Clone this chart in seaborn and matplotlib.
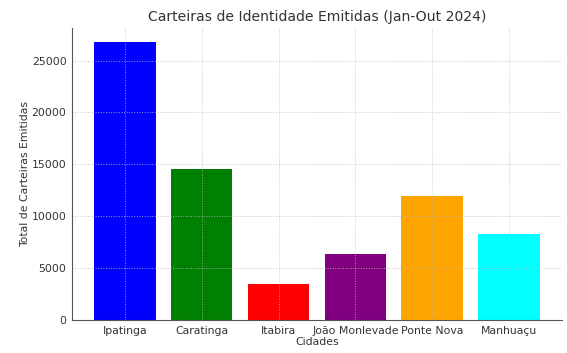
import numpy as np
import pandas as pd
import matplotlib
matplotlib.use('Agg')
import matplotlib.pyplot as plt
import seaborn as sns

# data
cidades = ['Ipatinga', 'Caratinga', 'Itabira', 'João Monlevade', 'Ponte Nova', 'Manhuaçu']
carteiras = [26800, 14600, 3450, 6350, 12000, 8270]
cores = ['blue', 'green', 'red', 'purple', 'orange', 'cyan']

df = pd.DataFrame({'cidade': cidades, 'total': carteiras})

sns.set_style('white')
plt.rcParams['font.family'] = ['DejaVu Sans']
plt.rcParams['axes.axisbelow'] = 'line'
plt.rcParams['text.color'] = '#333333'
plt.rcParams['axes.labelcolor'] = '#333333'
plt.rcParams['xtick.color'] = '#333333'
plt.rcParams['ytick.color'] = '#333333'

fig, ax = plt.subplots(figsize=(5.67, 3.53), dpi=100)
sns.barplot(data=df, x='cidade', y='total', hue='cidade', palette=cores,
            saturation=1, legend=False, width=0.8, ax=ax, linewidth=0)

ax.set_xlim(-0.69, 5.69)
ax.set_ylim(0, 28140)
ax.set_yticks([0, 5000, 10000, 15000, 20000, 25000])
ax.grid(True, linestyle=':', color='#bbbbbb', alpha=0.8, linewidth=0.7)
ax.tick_params(axis='both', labelsize=7.8, length=2, width=0.6, pad=2)

ax.set_title('Carteiras de Identidade Emitidas (Jan-Out 2024)', fontsize=10.1, pad=5)
ax.set_xlabel('Cidades', fontsize=7.8, labelpad=1)
ax.set_ylabel('Total de Carteiras Emitidas', fontsize=7.8, labelpad=1)

for s in ['top', 'right']:
    ax.spines[s].set_visible(False)
for s in ['left', 'bottom']:
    ax.spines[s].set_color('#555555')
    ax.spines[s].set_linewidth(0.8)

plt.subplots_adjust(left=0.127, right=0.991, top=0.921, bottom=0.093)
plt.savefig('out.png', dpi=100)
